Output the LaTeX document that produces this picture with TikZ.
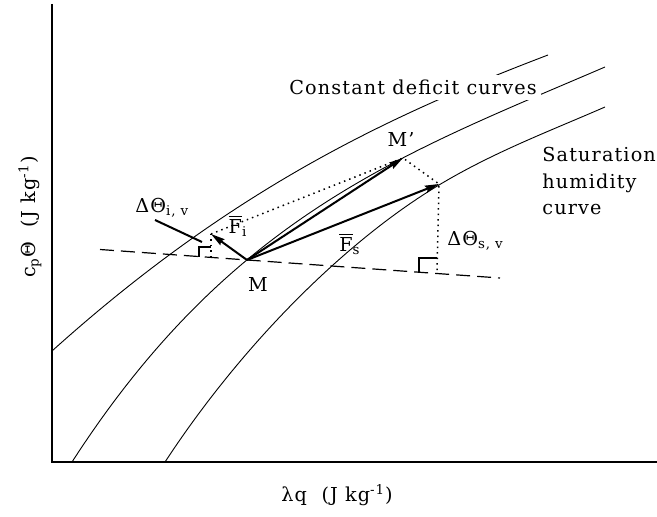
\documentclass[tikz,border=0pt]{standalone}
\usepackage{fontspec}
\setmainfont{DejaVu Serif}[LetterSpace=6]
\usetikzlibrary{arrows.meta}

\begin{document}
\begin{tikzpicture}[x=0.5pt, y=-0.5pt,
  txt/.style={font=\fontsize{9.6}{13.2}\selectfont, inner sep=0pt},
  axis/.style={line width=1pt},
  curve/.style={line width=0.45pt},
  vec/.style={-{Stealth[length=7pt, width=3.6pt, inset=0.8pt]}, line width=1pt},
  proj/.style={line width=0.75pt, dotted},
  tangent/.style={line width=0.6pt, dash pattern=on 7pt off 3.5pt},
  corner/.style={line width=0.6pt}
]
\useasboundingbox (0,0) rectangle (657,517);

% axes
\draw[axis] (52,4) -- (52,462) -- (657,462);
\node[txt, rotate=90] (ylab) at (30,217) {c\textsubscript{p}Θ\ \ (J kg\textsuperscript{-1})};
\node[txt] (xlab) at (337,495) {λq\ \ (J kg\textsuperscript{-1})};

% constant deficit curves and saturation curve
\draw[curve] (52,351) .. controls (232,189) and (388,116) .. (548,55);
\draw[curve] (72,462) .. controls (232,214) and (405,153) .. (605,67);
\draw[curve] (165,462) .. controls (245,340) and (349,239) .. (439,185)
  .. controls (494,152) and (550,131) .. (605,107);
\node[txt, anchor=base west, fill=white, inner xsep=2pt, inner ysep=2.6pt] (cdc) at (285,95) {Constant deficit curves};
\node[txt, anchor=north west, align=left] (sat) at (542,147) {Saturation\\humidity\\curve};

% points
\coordinate (M) at (247,260);
\coordinate (Mp) at (403,158);
\coordinate (Fs) at (439,184);
\coordinate (Fi) at (211,234);
\coordinate (Fsv) at (437,273);
\coordinate (Fiv) at (211,257);
\coordinate (tanA) at (100,249.5);
\coordinate (tanB) at (500,278);
\coordinate (ptrA) at (155,220);
\coordinate (ptrB) at (202,242);

\draw[tangent] (tanA) -- (tanB);
\draw[proj] (Fi) -- (Mp) -- (Fs) -- (Fsv);
\draw[proj] (Fi) -- (Fiv);
\draw[corner] ([xshift=-9pt]Fsv) |- ([yshift=7.5pt]Fsv);
\draw[corner] ([xshift=-6pt]Fiv) |- ([yshift=5pt]Fiv);

\draw[vec] (M) -- (Mp);
\draw[vec] (M) -- (Fs);
\draw[vec] (M) -- (Fi);
\draw[line width=1pt] (ptrA) -- (ptrB);

\node[txt] (Mlab) at (258,285) {M};
\node[txt] (Mplab) at (401,140) {M'};
\node[txt, anchor=base west] (dTi) at (135,213) {ΔΘ\textsubscript{i, v}};
\node[txt, anchor=base west] (dTs) at (447,246) {ΔΘ\textsubscript{s, v}};
\node[txt] (Filab) at (238,226) {$\overline{\mbox{F}}$\textsubscript{i}};
\node[txt] (Fslab) at (350,244) {$\overline{\mbox{F}}$\textsubscript{s}};
\end{tikzpicture}
\end{document}
